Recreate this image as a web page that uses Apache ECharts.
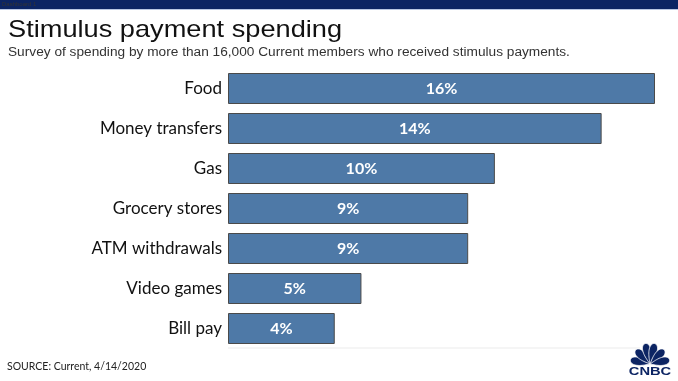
<!DOCTYPE html>
<html><head><meta charset="utf-8">
<script src="https://cdn.jsdelivr.net/npm/echarts@6/dist/echarts.min.js"></script>
<style>html,body{margin:0;padding:0;background:#fff}#c{width:678px;height:381px}</style>
</head><body><div id="c"></div>
<script>
const categories = ['Food','Money transfers','Gas','Grocery stores','ATM withdrawals','Video games','Bill pay'];
const values = [16, 14, 10, 9, 9, 5, 4];
const valueLabels = ['16%','14%','10%','9%','9%','5%','4%'];

const chart = echarts.init(document.getElementById('c'), null, {renderer:'canvas'});
const navy = '#0c2463';

// peacock feather shapes (decorative logo)
function feather(angleDeg, len, wid) {
  const a = angleDeg * Math.PI / 180;
  const pts = [];
  const n = 24;
  for (let s of [1, -1]) {
    for (let k = 0; k <= n; k++) {
      const i = s === 1 ? k : n - k;
      const t = i / n * Math.PI;
      const along = len * (1 - Math.cos(t)) / 2;
      const across = s * wid * Math.sin(t) * Math.pow((1 - Math.cos(t)) / 2, 0.6);
      pts.push([along, across]);
    }
  }
  const cx = 22, cy = 21;
  return pts.map(([u, v]) => [cx + u * Math.cos(a) - v * Math.sin(a), cy - u * Math.sin(a) - v * Math.cos(a)]);
}
const feathers = [[168, 20, 5.5], [135, 20, 5.5], [103, 21, 5.5], [77, 21, 5.5], [45, 20, 5.5], [12, 20, 5.5]].map(f => ({
  type: 'polygon', shape: {points: feather(f[0], f[1], f[2])}, style: {fill: navy, stroke: '#fff', lineWidth: 0.8}
}));

chart.setOption({
  animation:false,
  backgroundColor:'#ffffff',
  grid:{left:228, top:68.5, width:427, height:280},
  xAxis:{type:'value', min:0, max:16, show:true,
    axisLine:{show:false}, axisTick:{show:false}, axisLabel:{show:false}, splitLine:{show:false}},
  yAxis:{type:'category', data:categories, inverse:true,
    axisLine:{show:false}, axisTick:{show:false},
    axisLabel:{margin:6, color:'#111', fontSize:17, fontFamily:'Lato, Arial, sans-serif'}},
  series:[{type:'bar', data:values, barWidth:31,
    itemStyle:{color:'#4e79a7', borderColor:'#4a4a4a', borderWidth:1},
    label:{show:true, position:'inside', color:'#fff', fontWeight:'bold', fontSize:16,
      fontFamily:'Lato, Arial, sans-serif',
      formatter:p=>valueLabels[p.dataIndex]}}],
  graphic:[
    {type:'rect', shape:{x:0,y:0,width:678,height:9}, style:{fill:navy}, silent:true},
    {type:'rect', shape:{x:0,y:9,width:678,height:1}, style:{fill:'#b9c6e2'}, silent:true},
    {type:'text', x:2, y:1, style:{text:'Dashboard 1', fill:'#333', fontSize:6, fontFamily:'Arial'}},
    {type:'group', x:8, y:30, scaleX:1.133, children:[
      {type:'text', x:0, y:0, style:{text:'Stimulus payment spending', fill:'#111', fontSize:24, fontFamily:'Liberation Sans, Arial', verticalAlign:'middle'}}
    ]},
    {type:'group', x:8, y:52.5, scaleX:1.14, children:[
      {type:'text', x:0, y:0, style:{text:'Survey of spending by more than 16,000 Current members who received stimulus payments.', fill:'#333', fontSize:12, fontFamily:'Liberation Sans, Arial', verticalAlign:'middle'}}
    ]},
    {type:'rect', shape:{x:228,y:347.5,width:412,height:1}, style:{fill:'#ececec'}, silent:true},
    {type:'text', x:7, y:367, style:{text:'SOURCE: Current, 4/14/2020', fill:'#222', fontSize:10.5, fontFamily:'Lato, Arial', verticalAlign:'middle'}},
    {type:'group', x:628, y:343, children: feathers.concat([
      {type:'group', x:22, y:24, scaleX:1.4, children:[
        {type:'text', x:0, y:0, style:{text:'CNBC', fill:navy, fontSize:10.5, fontWeight:900, fontFamily:'Arial', align:'center', verticalAlign:'top'}}
      ]}
    ])}
  ]
});
</script></body></html>
